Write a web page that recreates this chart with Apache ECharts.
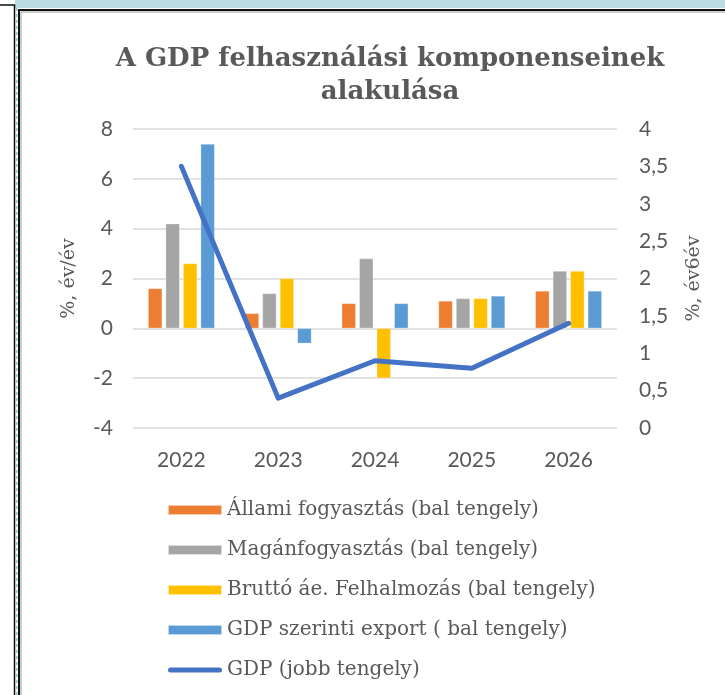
<!DOCTYPE html>
<html>
<head>
<meta charset="utf-8">
<script src="https://cdn.jsdelivr.net/npm/echarts@6/dist/echarts.min.js"></script>
<style>
html,body{margin:0;padding:0;background:#fff;}
#main{width:725px;height:695px;}
</style>
</head>
<body>
<div id="main"></div>
<script>
const categories = ['2022', '2023', '2024', '2025', '2026'];
const allami = [1.6, 0.6, 1.0, 1.1, 1.5];
const magan = [4.2, 1.4, 2.8, 1.2, 2.3];
const brutto = [2.6, 2.0, -2.0, 1.2, 2.3];
const exportGdp = [7.4, -0.6, 1.0, 1.3, 1.5];
const gdp = [3.5, 0.4, 0.9, 0.8, 1.4];
const seriesNames = ['Állami fogyasztás (bal tengely)', 'Magánfogyasztás (bal tengely)', 'Bruttó áe. Felhalmozás (bal tengely)', 'GDP szerinti export ( bal tengely)', 'GDP (jobb tengely)'];
const titleText = 'A GDP felhasználási komponenseinek\nalakulása';
const leftAxisName = '%, év/év';
const rightAxisName = '%, év6év';

const chart = echarts.init(document.getElementById('main'), null, {renderer: 'canvas'});
const txt = '#595959';
const tickFont = 'Lato, "Open Sans", sans-serif';
const serif = '"DejaVu Serif", "Liberation Serif", serif';

function bar(name, data, color) {
  return {
    name: name, type: 'bar', data: data, yAxisIndex: 0,
    barWidth: 14, barGap: '25%',
    itemStyle: {color: color, borderColor: 'rgba(255,255,255,0.6)', borderWidth: 0.5},
    emphasis: {disabled: true}
  };
}

chart.setOption({
  animation: false,
  backgroundColor: '#ffffff',
  title: {
    text: titleText, left: 385, textAlign: 'center', top: 38,
    textStyle: {fontFamily: serif, fontWeight: 'bold', fontSize: 26, color: txt, lineHeight: 33}
  },
  grid: {left: 133, right: 108, top: 129, bottom: 267, containLabel: false},
  legend: {
    orient: 'vertical', left: 162, top: 495, itemWidth: 54, itemHeight: 10, itemGap: 20,
    textStyle: {fontFamily: serif, fontSize: 20, color: txt},
    data: [
      {name: seriesNames[0], icon: 'rect'},
      {name: seriesNames[1], icon: 'rect'},
      {name: seriesNames[2], icon: 'rect'},
      {name: seriesNames[3], icon: 'rect'},
      {name: seriesNames[4], icon: 'path://M2.5,0 h49 a2.5,2.5 0 0 1 0,5 h-49 a2.5,2.5 0 0 1 0,-5 z'}
    ]
  },
  xAxis: {
    type: 'category', data: categories,
    axisLine: {show: false}, axisTick: {show: false},
    axisLabel: {fontFamily: tickFont, fontSize: 21, color: txt, margin: 22}
  },
  yAxis: [
    {
      type: 'value', min: -4, max: 8, interval: 2,
      name: leftAxisName, nameLocation: 'middle', nameGap: 54, nameRotate: 90,
      nameTextStyle: {fontFamily: serif, fontSize: 19, color: txt},
      axisLine: {show: false}, axisTick: {show: false},
      axisLabel: {fontFamily: tickFont, fontSize: 21, color: txt, margin: 20},
      splitLine: {lineStyle: {color: '#D9D9D9', width: 1.5}}
    },
    {
      type: 'value', min: 0, max: 4, interval: 0.5, position: 'right',
      name: rightAxisName, nameLocation: 'middle', nameGap: 68, nameRotate: 90,
      nameTextStyle: {fontFamily: serif, fontSize: 19, color: txt},
      axisLine: {show: false}, axisTick: {show: false},
      axisLabel: {fontFamily: tickFont, fontSize: 21, color: txt, margin: 22,
        formatter: v => String(v).replace('.', ',')},
      splitLine: {show: false}
    }
  ],
  series: [
    bar(seriesNames[0], allami, '#ED7D31'),
    bar(seriesNames[1], magan, '#A5A5A5'),
    bar(seriesNames[2], brutto, '#FFC000'),
    bar(seriesNames[3], exportGdp, '#5B9BD5'),
    {
      name: seriesNames[4], type: 'line', data: gdp, yAxisIndex: 1,
      symbol: 'none', z: 5,
      lineStyle: {color: '#4472C4', width: 5, cap: 'round', join: 'round'},
      itemStyle: {color: '#4472C4'},
      emphasis: {disabled: true}
    }
  ],
  graphic: [
    {type: 'rect', shape: {x: 15, y: 0, width: 710, height: 8}, style: {fill: '#BADDE2'}, silent: true},
    {type: 'polyline', shape: {points: [[0, 5], [14.5, 5], [14.5, 695]]}, style: {stroke: '#111', lineWidth: 1.5, fill: null}, silent: true},
    {type: 'line', shape: {x1: 16.5, y1: 8, x2: 16.5, y2: 695}, style: {stroke: '#8CC8CE', lineWidth: 2, lineDash: [3, 3]}, silent: true},
    {type: 'polyline', shape: {points: [[19, 695], [19, 10], [725, 10]]}, style: {stroke: '#111', lineWidth: 2, fill: null}, silent: true},
    {type: 'polyline', shape: {points: [[21, 695], [21, 12], [725, 12]]}, style: {stroke: '#999', lineWidth: 1, fill: null}, silent: true}
  ]
});
</script>
</body>
</html>
